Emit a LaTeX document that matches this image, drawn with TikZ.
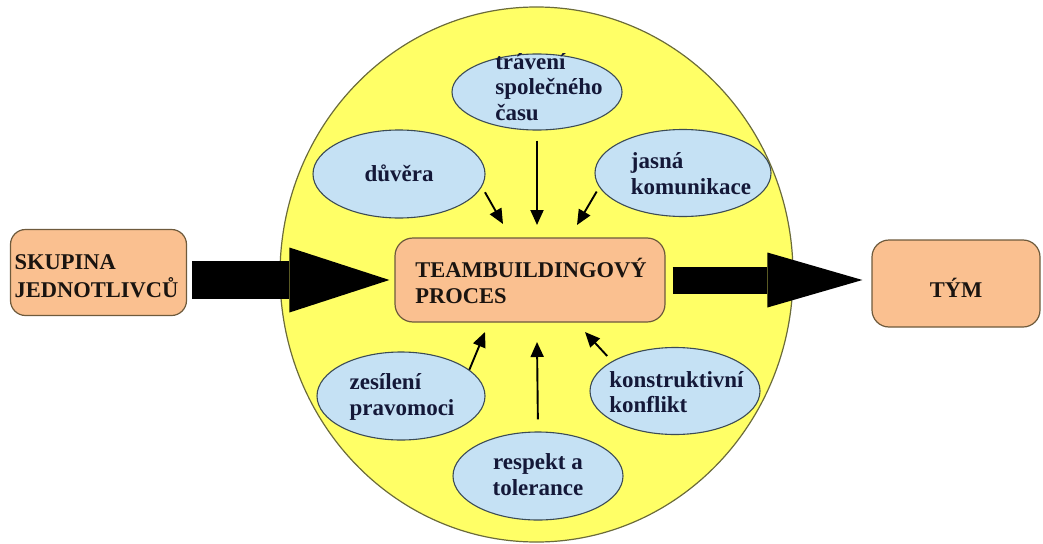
\documentclass[tikz,border=0pt]{standalone}
\usepackage{fontspec}
\setmainfont{Liberation Serif}
\usetikzlibrary{shapes.geometric,arrows.meta,calc}

\definecolor{sun}{HTML}{FFFF66}
\definecolor{sunline}{HTML}{6B6B3A}
\definecolor{peach}{HTML}{FAC090}
\definecolor{peachline}{HTML}{6E5A3C}
\definecolor{sky}{HTML}{C5E1F4}
\definecolor{skyline}{HTML}{3C4B55}
\definecolor{navy}{HTML}{141838}
\definecolor{ink}{HTML}{1A1410}

% text block with zero size: #1 horizontal offset, #2 vertical raise, #3 column alignment, #4 lines
\newcommand\blocktext[4]{\smash{\makebox[0pt]{\hspace*{#1}\raisebox{#2}{\begin{tabular}[c]{@{}#3@{}}#4\end{tabular}}\hspace*{-#1}}}}

\begin{document}
\begin{tikzpicture}[x=1pt,y=-1pt,
  hubshape/.style={ellipse, draw=sunline, line width=1.2pt, fill=sun, inner sep=0pt},
  bigbox/.style={rectangle, rounded corners=16pt, draw=peachline, line width=1.2pt,
    fill=peach, inner sep=0pt, text=ink,
    font=\bfseries\fontsize{22.5}{25.5}\selectfont},
  blob/.style={ellipse, draw=skyline, line width=1.1pt, fill=sky, inner sep=0pt,
    minimum width=170pt, minimum height=87pt, text=navy,
    font=\bfseries\fontsize{23}{25.5}\selectfont},
  feeder/.style={line width=1.9pt, -{Triangle[length=15pt,width=13pt]}},
  flow/.style n args={3}{line width=#1, -{Triangle[length=#2,width=#3,line width=0pt]}}]

\useasboundingbox (0,0) rectangle (1043,543);

% the large yellow process area
\node[hubshape, minimum width=513pt, minimum height=535pt] (hub) at (536.5,274.5) {};

% main boxes
\node[bigbox, minimum width=176pt, minimum height=86pt, rounded corners=15pt] (skup) at (98.5,272.5)
  {\blocktext{-2pt}{-11pt}{l}{SKUPINA\\JEDNOTLIVCŮ}};
\node[bigbox, minimum width=270pt, minimum height=84pt, rounded corners=18pt] (proc) at (530,280)
  {\blocktext{1pt}{-10pt}{l}{TEAMBUILDINGOVÝ\\PROCES}};
\node[bigbox, minimum width=168pt, minimum height=87pt, rounded corners=17pt] (tym) at (956,283.5)
  {\blocktext{0pt}{-13pt}{c}{TÝM}};

% factors around the process
\node[blob, minimum height=76pt] (trav) at (537,92)
  {\blocktext{12pt}{-4pt}{l}{trávení\\společného\\času}};
\node[blob, minimum width=172pt, minimum height=88pt] (duvera) at (399,174)
  {\blocktext{0pt}{-9pt}{c}{důvěra}};
\node[blob, minimum width=176pt, minimum height=87pt] (jasna) at (683,173)
  {\blocktext{8pt}{-9.5pt}{l}{jasná\\komunikace}};
\node[blob, minimum width=168pt, minimum height=88pt] (zes) at (401,396)
  {\blocktext{1pt}{-7.5pt}{l}{zesílení\\pravomoci}};
\node[blob, minimum width=170pt, minimum height=87pt] (kons) at (675,391)
  {\blocktext{1.5pt}{-10pt}{l}{konstruktivní\\konflikt}};
\node[blob, minimum width=170pt, minimum height=88pt] (resp) at (538,476)
  {\blocktext{0pt}{-7.5pt}{c}{respekt a\\tolerance}};

% arrow ends just short of the process box
\coordinate (inA) at (503,224);
\coordinate (inB) at (537,225);
\coordinate (inC) at (577,225);
\coordinate (inD) at (485,332);
\coordinate (inE) at (537,342);
\coordinate (inF) at (585,332);

\draw[feeder] ([xshift=7pt]duvera.-13) -- (inA);
\draw[feeder, shorten <=10pt] (trav.south) -- (inB);
\draw[feeder] ([xshift=-6pt]jasna.193) -- (inC);
\draw[feeder] (zes.21) -- (inD);
\draw[feeder, shorten <=12pt] (resp.north) -- (inE);
\draw[feeder] ([shift={(-7,-4)}]kons.153) -- (inF);

% the two broad flow arrows
\coordinate (flowL) at (skup.east |- proc.west);
\coordinate (flowR) at (tym.west |- proc.east);
\draw[flow={38pt}{100pt}{65pt}] ([xshift=5pt]flowL) -- ([xshift=-5pt]proc.west);
\draw[flow={27pt}{95pt}{55pt}] ([xshift=7pt]proc.east) -- ([xshift=-9pt]flowR);
\end{tikzpicture}
\end{document}
